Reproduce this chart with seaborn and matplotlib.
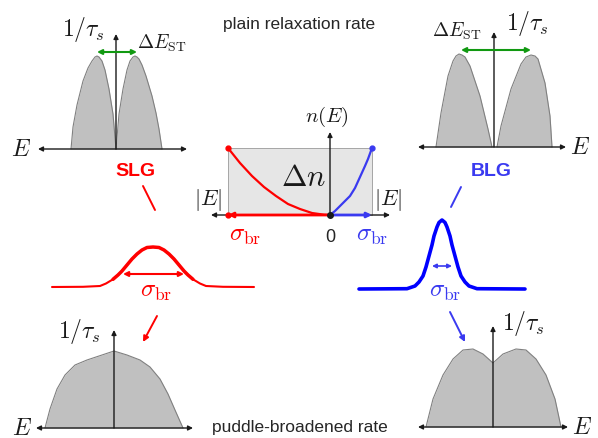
"""
Schematic: plain vs puddle-broadened spin relaxation rate for SLG and BLG
"""

import matplotlib
matplotlib.use("Agg")
import matplotlib.pyplot as plt
import seaborn as sns

W, H = 598, 439

# ---- values, local units = px, origin at each panel's axis crossing ----
# plain relaxation rate, single layer (two humps split at E = 0)
slg_plain_left_E = [-45, -43, -39, -33, -28, -24, -21, -19, -17, -14, -11, -7, -3, 0]
slg_plain_left_r = [0, 22, 44, 68, 81, 88, 92, 93, 92, 88, 79, 60, 35, 0]
slg_plain_right_E = [0, 3, 7, 11, 14, 17, 19, 21, 23, 26, 30, 36, 40, 43, 46]
slg_plain_right_r = [0, 35, 60, 79, 88, 92, 93, 92, 90, 84, 73, 53, 36, 20, 0]

# plain relaxation rate, bilayer
blg_plain_left_E = [-58, -53, -46, -41, -38, -35, -32, -29, -24, -14, -6, -2]
blg_plain_left_r = [0, 34, 71, 86, 91, 93, 92, 90, 81, 51, 18, 0]
blg_plain_right_E = [3, 7, 17, 27, 32, 37, 41, 44, 51, 56, 58]
blg_plain_right_r = [0, 21, 58, 83, 90, 92, 91, 88, 64, 31, 0]

# carrier density n(E): SLG branch (left, red) and BLG branch (right, blue)
dens_box_E = [-102, 42]
dens_box_n = 67
dens_red_E = [-102, -90, -78, -66, -54, -42, -30, -18, -6, 0]
dens_red_n = [67, 52, 39, 28, 19, 11, 6, 2, 0.3, 0]
dens_blue_E = [0, 5, 10, 15, 20, 25, 30, 35, 38, 42]
dens_blue_n = [0, 4, 9, 14, 19, 27, 38, 49, 56, 67]

# broadening distributions
slg_gauss_E = [-101, -70, -53, -47, -40, -35, -31, -26, -21, -16, -11, -6, 0,
               6, 11, 16, 21, 26, 31, 35, 40, 47, 53, 70, 101]
slg_gauss_h = [0, 0.2, 1, 3.5, 7.7, 12, 16, 22, 28, 33, 37, 39.5, 40,
               39.5, 37, 33, 28, 22, 16, 12, 7.7, 3.5, 1, 0.2, 0]
slg_sigma = [-30, 31]
blg_gauss_E = [-83, -35, -27, -23, -19, -16, -13, -10, -8, -5, -3, 0,
               3, 5, 8, 10, 13, 16, 19, 23, 27, 35, 83]
blg_gauss_h = [0, 0.3, 3, 7, 13, 22, 33, 44, 53, 62, 66.5, 69,
               66.5, 62, 53, 44, 33, 22, 13, 7, 3, 0.3, 0]
blg_sigma = [-10, 10]

# puddle-broadened rates
slg_brd_E = [-69, -64, -57, -49, -39, -27, -12, 0, 13, 26, 36, 46, 54, 61, 69]
slg_brd_r = [0, 19, 39, 53, 63, 68, 73, 77, 73, 68, 61, 49, 34, 18, 0]
blg_brd_E = [-67, -60, -50, -40, -30, -20, -10, 0, 10, 23, 33, 43, 53, 62, 68]
blg_brd_r = [0, 28, 52, 68, 77, 78, 73, 64, 73, 78, 77, 68, 52, 28, 0]

RED = "#ff0000"
BLUE = "#0000ff"
BLUE_SOFT = "#3a3af0"
GREEN = "#119911"
FILL = "#c0c0c0"
EDGE = "#808080"

sns.set_theme(style="white")
plt.rcParams["mathtext.fontset"] = "cm"
plt.rcParams["font.family"] = ["Liberation Sans", "DejaVu Sans"]

fig = plt.figure(figsize=(W / 100, H / 100), dpi=100)
fig.patch.set_facecolor("white")


def panel(ox, oy, half_w=140, lo=-45, hi=150):
    """Axes whose data units are pixels, origin placed at (ox, oy) from the top-left"""
    ax = fig.add_axes([(ox - half_w) / W, (H - oy + lo) / H, 2 * half_w / W, (hi - lo) / H])
    ax.set_xlim(-half_w, half_w)
    ax.set_ylim(lo, hi)
    ax.axis("off")
    ax.patch.set_alpha(0)
    return ax


def arrow(ax, start, end, color="k", lw=1.0, style="-|>", ms=9, z=5):
    ax.annotate("", xy=end, xytext=start, annotation_clip=False, zorder=z,
                arrowprops=dict(arrowstyle=style, color=color, lw=lw, mutation_scale=ms,
                                shrinkA=0, shrinkB=0))


def math(ax, x, y, s, size=16, color="k"):
    ax.text(x, y, s, fontsize=size, color=color, ha="center", va="center")


def rate_panel(ax, parts, x_axis, y_top):
    for E, r in parts:
        ax.fill_between(E, r, color=FILL, lw=0, zorder=1)
        sns.lineplot(x=E, y=r, ax=ax, color=EDGE, lw=0.8, sort=False, estimator=None, zorder=2)
    arrow(ax, (x_axis[0], 0), (x_axis[1], 0), style="<|-|>", ms=7)
    arrow(ax, (0, 0), (0, y_top), ms=7)


# overlay in plain pixel coordinates for titles and connectors
bg = fig.add_axes([0, 0, 1, 1])
bg.set_xlim(0, W)
bg.set_ylim(H, 0)
bg.axis("off")
bg.patch.set_alpha(0)
bg.text(299, 25, "plain relaxation rate", fontsize=12.5, ha="center", va="center")
bg.text(300, 428, "puddle-broadened rate", fontsize=12.5, ha="center", va="center")
bg.text(135, 172, "SLG", fontsize=14, fontweight="bold", color=RED, ha="center", va="center")
bg.text(491, 172, "BLG", fontsize=14, fontweight="bold", color=BLUE_SOFT, ha="center", va="center")
bg.plot([143, 155], [187, 211], color=RED, lw=1.4)
arrow(bg, (157, 317), (143, 343), color=RED, lw=1.4, ms=8)
bg.plot([461, 451], [188, 208], color=BLUE_SOFT, lw=1.4)
arrow(bg, (450, 313), (465, 343), color=BLUE_SOFT, lw=1.4, ms=8)

# --- top left: SLG plain rate
ax = panel(116, 150)
rate_panel(ax, [(slg_plain_left_E, slg_plain_left_r), (slg_plain_right_E, slg_plain_right_r)],
           (-78, 71), 115)
arrow(ax, (-19, 97), (21, 97), color=GREEN, lw=1.5, style="<|-|>", ms=7)
math(ax, -33, 121, r"$1/\tau_s$", 17)
math(ax, 46, 107, r"$\Delta E_{\rm ST}$", 14)
math(ax, -95, 0, r"$E$", 17)

# --- top right: BLG plain rate
ax = panel(494, 148)
rate_panel(ax, [(blg_plain_left_E, blg_plain_left_r), (blg_plain_right_E, blg_plain_right_r)],
           (-76, 72), 115)
arrow(ax, (-33, 97), (37, 97), color=GREEN, lw=1.5, style="<|-|>", ms=7)
math(ax, -37, 117, r"$\Delta E_{\rm ST}$", 14)
math(ax, 33, 125, r"$1/\tau_s$", 17)
math(ax, 86, 0, r"$E$", 17)

# --- centre: density of states n(E)
ax = panel(330, 216)
ax.fill_between(dens_box_E, [dens_box_n] * 2, color="#e6e6e6", lw=0.6, edgecolor="#999999", zorder=1)
sns.lineplot(x=dens_red_E, y=dens_red_n, ax=ax, color=RED, lw=1.6, sort=False, estimator=None, zorder=3)
sns.lineplot(x=dens_blue_E, y=dens_blue_n, ax=ax, color=BLUE_SOFT, lw=1.6, sort=False, estimator=None, zorder=3)
arrow(ax, (-119, 0), (60, 0), style="<|-|>", ms=7)
arrow(ax, (0, 0), (0, 83), ms=7)
arrow(ax, (0, 0), (dens_box_E[0], 0), color=RED, lw=2, ms=7, z=6)
arrow(ax, (0, 0), (dens_box_E[1], 0), color=BLUE_SOFT, lw=2, ms=7, z=6)
ax.plot([dens_box_E[0], dens_box_E[0]], [0, dens_box_n], "o", color=RED, ms=3.5, zorder=7)
ax.plot([dens_box_E[1]], [dens_box_n], "o", color=BLUE_SOFT, ms=3.5, zorder=7)
ax.plot([0], [0], "o", color="k", ms=4, zorder=8)
math(ax, -3, 99, r"$n(E)$", 15)
math(ax, -26, 38, r"$\Delta n$", 22)
math(ax, -122, 16, r"$|E|$", 16)
math(ax, 58, 16, r"$|E|$", 16)
math(ax, -85, -19, r"$\sigma_{\rm br}$", 18, RED)
math(ax, 42, -19, r"$\sigma_{\rm br}$", 18, BLUE_SOFT)
ax.text(0, -22, "0", fontsize=13, ha="center", va="center")

# --- middle left: SLG broadening
ax = panel(153, 288)
sns.lineplot(x=slg_gauss_E, y=slg_gauss_h, ax=ax, color=RED, lw=1.5, sort=False, estimator=None)
sns.lineplot(x=slg_gauss_E[4:-4], y=slg_gauss_h[4:-4], ax=ax, color=RED, lw=2.5, sort=False, estimator=None)
arrow(ax, (slg_sigma[0], 13), (slg_sigma[1], 13), color=RED, lw=1.5, style="<|-|>", ms=7)
math(ax, 3, -3, r"$\sigma_{\rm br}$", 18, RED)

# --- middle right: BLG broadening
ax = panel(442, 290)
sns.lineplot(x=blg_gauss_E, y=blg_gauss_h, ax=ax, color=BLUE, lw=2.6, sort=False, estimator=None)
arrow(ax, (blg_sigma[0], 23), (blg_sigma[1], 23), color=BLUE_SOFT, lw=1.2, style="<|-|>", ms=6)
math(ax, 3, -1, r"$\sigma_{\rm br}$", 18, BLUE_SOFT)

# --- bottom left: SLG puddle-broadened rate
ax = panel(114, 429)
rate_panel(ax, [(slg_brd_E, slg_brd_r)], (-78, 79), 98)
math(ax, -35, 98, r"$1/\tau_s$", 17)
math(ax, -92, 0, r"$E$", 17)

# --- bottom right: BLG puddle-broadened rate
ax = panel(493, 428)
rate_panel(ax, [(blg_brd_E, blg_brd_r)], (-75, 75), 101)
math(ax, 30, 105, r"$1/\tau_s$", 17)
math(ax, 89, 0, r"$E$", 17)

fig.savefig("out.png", dpi=100)
plt.close(fig)
